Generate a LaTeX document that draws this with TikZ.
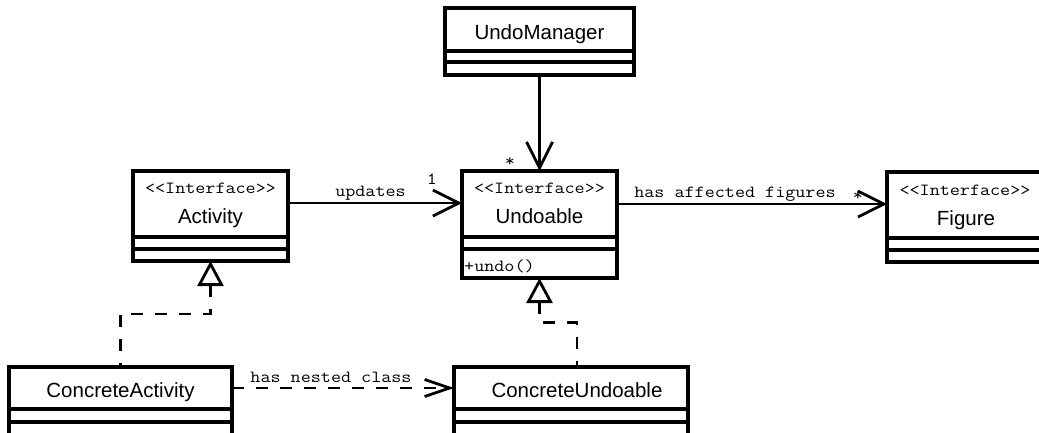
\documentclass[tikz,border=0pt]{standalone}
\usepackage{fontspec}
\setmainfont{Liberation Sans}
\usepackage{graphicx}
\usetikzlibrary{arrows.meta,calc}

% typewriter text, widened to Courier proportions
\newcommand\umlmono[1]{\scalebox{1.15}[1]{\ttfamily\fontsize{17}{20}\selectfont #1}}
\newcommand\stereotype{\umlmono{<\kern0pt<Interface>\kern0pt>}}

% class box: name, x1, y1, x2, y2, first and second compartment line
\newcommand\umlclass[7]{%
  \node[classbox, minimum width=#4pt-#2pt, minimum height=#5pt-#3pt]
    (#1) at ({(#2+#4)/2},{(#3+#5)/2}) {};
  \draw[compline] (#1.west |- 0,#6) -- (#1.east |- 0,#6);
  \draw[compline] (#1.west |- 0,#7) -- (#1.east |- 0,#7);
}

\begin{document}
\begin{tikzpicture}[x=1pt,y=-1pt,
  classbox/.style={draw, line width=3.3pt, fill=white, rectangle, inner sep=0pt, outer sep=0pt},
  compline/.style={line width=3.3pt},
  classname/.style={font=\fontsize{20.5}{24}\selectfont, anchor=base, inner sep=0pt},
  lbl/.style={anchor=base, inner sep=0pt},
  assoc/.style={line width=2.8pt, -{Straight Barb[length=26pt,width=26pt]}},
  nested/.style={line width=2.8pt, dash pattern=on 12pt off 12pt,
    -{Straight Barb[length=25pt,width=17pt]}},
  realize/.style={line width=2.8pt, dash pattern=on 12pt off 12pt,
    {Triangle[length=25pt,width=26pt,fill=white]}-},
]
\useasboundingbox (0,0) rectangle (1039,432);

% classes
\umlclass{mgr}{445}{8}{634}{75}{51}{62}
\umlclass{act}{133}{171}{288}{261}{237}{249}
\umlclass{und}{462}{171}{617}{278}{237}{249}
\umlclass{fig}{887}{172}{1045}{262}{238}{250}
\umlclass{ca}{9}{367}{232}{440}{409}{422}
\umlclass{cu}{454}{367}{688}{440}{409}{422}

% class texts
\node[classname] (mgrname) at (539.5,39.5) {UndoManager};
\node[lbl] (actst) at (210.5,193) {\stereotype};
\node[classname] (actname) at (210.5,223) {Activity};
\node[lbl] (undst) at (539.5,193) {\stereotype};
\node[classname] (undname) at (539.5,223) {Undoable};
\node[lbl, anchor=base west] (undop) at (464,271) {\umlmono{+undo()}};
\node[lbl] (figst) at (965,195) {\stereotype};
\node[classname] (figname) at (966,225) {Figure};
\node[classname] (caname) at (120.5,397.5) {ConcreteActivity};
\node[classname] (cuname) at (577,397.5) {ConcreteUndoable};

% associations
\draw[assoc] (mgr.south) -- (und.north);
\node[lbl] (mgrmult) at (510,166) {\umlmono{*}};

\draw[assoc] ($(act.north east)+(0,32)$) -- ($(und.north west)+(0,32)$);
\node[lbl] (updl) at (370.5,196) {\umlmono{updates}};
\node[lbl] (updmult) at (432,184) {\umlmono{1}};

\draw[assoc] ($(und.north east)+(0,33)$) -- ($(fig.north west)+(0,32)$);
\node[lbl] (figl) at (735,197) {\umlmono{has affected figures}};
\node[lbl] (figmult) at (858,200) {\umlmono{*}};

% realizations
\draw[realize] (act.south) |- ($(act.south)!.5!(ca.north)$) -| (ca.north);
\coordinate (cutop) at ([xshift=6pt]cu.north);
\draw[realize] (und.south) |- ($(und.south)!.5!(cutop)$) -| (cutop);

% dependency
\draw[nested] ($(ca.north east)+(0,21)$) -- ($(cu.north west)+(0,21)$);
\node[lbl] (nestl) at (331,382) {\umlmono{has nested class}};
\end{tikzpicture}
\end{document}
